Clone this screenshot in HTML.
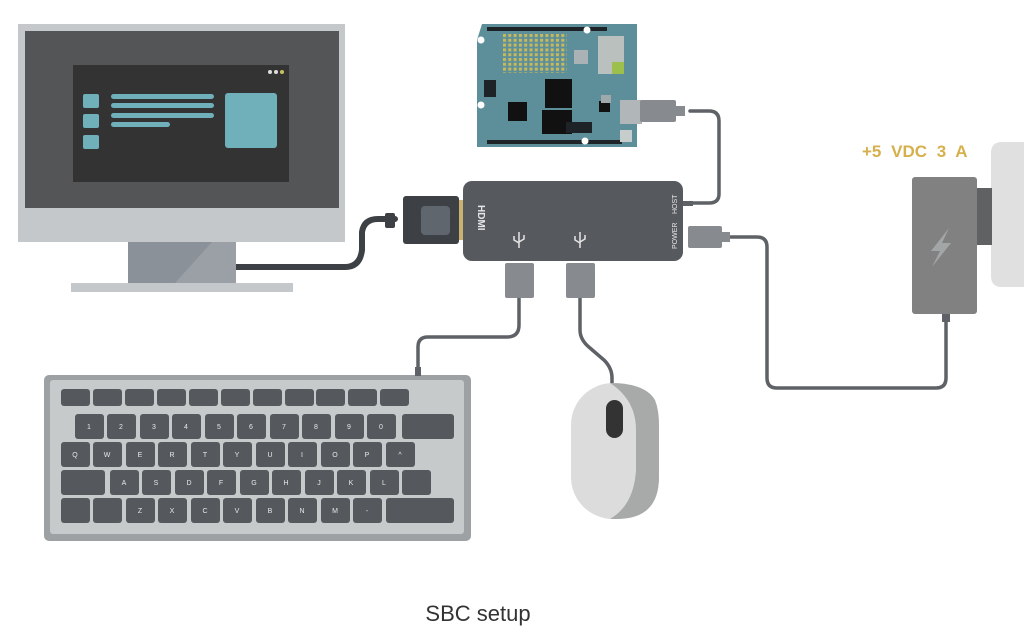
<!DOCTYPE html>
<html><head><meta charset="utf-8"><style>
html,body{margin:0;padding:0;background:#fff;width:1024px;height:635px;overflow:hidden}
svg{display:block}
.k{font-family:"Liberation Sans",sans-serif;font-size:7px;fill:#e8e8e8;text-anchor:middle}
</style></head><body>
<svg width="1024" height="635" viewBox="0 0 1024 635" xmlns="http://www.w3.org/2000/svg">
<defs>
<pattern id="led" x="503" y="34" width="5.3" height="4.8" patternUnits="userSpaceOnUse"><rect width="3" height="3" fill="#c8b95a"/></pattern>
</defs>
<!-- cables -->
<g fill="none" stroke="#5e6267" stroke-width="3.5" stroke-linecap="round">
<path d="M236 267 H345 Q360 267 362 250 V232 Q364 219 378 219 H395" stroke="#3d4044" stroke-width="6"/>
<path d="M519 297 V325 Q519 337 507 337 H428 Q418 337 418 347 V375"/>
<path d="M580 297 V330 Q580 340 590 348 L604 360 Q612 368 612 378 V384"/>
<path d="M690 111 H709 Q719 111 719 121 V194 Q719 203 709 203 H683"/>
<path d="M730 237 H757 Q767 237 767 247 V378 Q767 388 777 388 H936 Q946 388 946 378 V318"/>
</g>
<!-- monitor -->
<rect x="18" y="24" width="327" height="218" fill="#c4c8cb"/>
<rect x="25" y="31" width="314" height="177" fill="#545557"/>
<rect x="73" y="65" width="216" height="117" fill="#333333"/>
<rect x="83" y="94" width="16" height="14" rx="2" fill="#6fb0ba"/>
<rect x="83" y="114" width="16" height="14" rx="2" fill="#6fb0ba"/>
<rect x="83" y="135" width="16" height="14" rx="2" fill="#6fb0ba"/>
<rect x="111" y="94" width="103" height="5" rx="2.5" fill="#6fb0ba"/>
<rect x="111" y="103" width="103" height="5" rx="2.5" fill="#6fb0ba"/>
<rect x="111" y="113" width="103" height="5" rx="2.5" fill="#6fb0ba"/>
<rect x="111" y="122" width="59" height="5" rx="2.5" fill="#6fb0ba"/>
<rect x="225" y="93" width="52" height="55" rx="3" fill="#6fb0ba"/>
<circle cx="270" cy="72" r="2" fill="#ddd"/><circle cx="276" cy="72" r="2" fill="#ddd"/><circle cx="282" cy="72" r="2" fill="#c8c060"/>
<rect x="128" y="242" width="108" height="41" fill="#8a9198"/>
<polygon points="175,283 212,242 236,242 236,283" fill="#9aa0a6"/>
<rect x="71" y="283" width="222" height="9" fill="#c4c8cb"/>
<!-- hdmi plug -->
<rect x="385" y="213" width="10" height="15" rx="2" fill="#3d4044"/>
<rect x="403" y="196" width="56" height="48" rx="3" fill="#3d4044"/>
<rect x="421" y="206" width="29" height="29" rx="4" fill="#5f666d"/>
<rect x="459" y="200" width="5" height="40" fill="#c9b36f"/>
<!-- hub -->
<rect x="463" y="181" width="220" height="80" rx="9" fill="#56595e"/>
<text x="0" y="0" transform="translate(478,205) rotate(90)" font-family="Liberation Sans,sans-serif" font-size="10" font-weight="bold" fill="#e6e6e6">HDMI</text>
<text x="0" y="0" transform="translate(677,214) rotate(-90)" font-family="Liberation Sans,sans-serif" font-size="7" fill="#e6e6e6">HOST</text>
<text x="0" y="0" transform="translate(677,249) rotate(-90)" font-family="Liberation Sans,sans-serif" font-size="7" fill="#e6e6e6">POWER</text>
<g stroke="#e6e6e6" stroke-width="1.5" fill="none"><path d="M519 232 V248 M514 236 V240 L519 243 M524 235 V239 L519 242"/><path d="M580 232 V248 M575 236 V240 L580 243 M585 235 V239 L580 242"/></g>
<rect x="683" y="201" width="10" height="5" fill="#5e6267"/>
<!-- usb plugs -->
<rect x="505" y="263" width="29" height="35" rx="2" fill="#878b8f"/>
<rect x="566" y="263" width="29" height="35" rx="2" fill="#878b8f"/>
<rect x="688" y="226" width="34" height="22" rx="2" fill="#878b8f"/>
<rect x="722" y="232" width="8" height="10" fill="#878b8f"/>
<!-- arduino -->
<path d="M482 24 H637 V147 H477 V40 Z" fill="#5c8f9a"/>
<rect x="487" y="27" width="120" height="4" fill="#1d2326"/>
<rect x="487" y="140" width="135" height="4" fill="#1d2326"/>
<rect x="503" y="34" width="64" height="39" fill="url(#led)"/>
<rect x="598" y="36" width="26" height="38" fill="#b9c0bd"/>
<rect x="612" y="62" width="12" height="12" fill="#9cc04b"/>
<rect x="574" y="50" width="14" height="14" fill="#aab2b5"/>
<rect x="545" y="79" width="27" height="29" fill="#111"/>
<rect x="542" y="110" width="30" height="24" fill="#111"/>
<rect x="508" y="102" width="19" height="19" fill="#111"/>
<rect x="599" y="101" width="11" height="11" fill="#111"/>
<rect x="484" y="80" width="12" height="17" fill="#1d2326"/>
<rect x="566" y="122" width="26" height="11" fill="#1d2326"/>
<rect x="601" y="95" width="10" height="8" fill="#9fa8aa"/>
<rect x="620" y="100" width="22" height="24" fill="#b1b6b8"/>
<circle cx="481" cy="40" r="3.5" fill="#fff"/><circle cx="481" cy="105" r="3.5" fill="#fff"/><circle cx="587" cy="30" r="3.5" fill="#fff"/><circle cx="585" cy="141" r="3.5" fill="#fff"/>
<rect x="620" y="130" width="12" height="12" fill="#c7cccc"/>
<rect x="640" y="100" width="36" height="22" rx="2" fill="#878b8f"/>
<rect x="676" y="106" width="9" height="10" fill="#878b8f"/>
<!-- adapter -->
<text x="862" y="157" font-family="Liberation Sans,sans-serif" font-size="17" font-weight="bold" fill="#d6b04c" style="word-spacing:5px">+5 VDC 3 A</text>
<path d="M1024 142 H1002 Q991 142 991 153 V276 Q991 287 1002 287 H1024 Z" fill="#e0e0e0"/>
<rect x="976" y="188" width="16" height="57" fill="#5f6163"/>
<rect x="912" y="177" width="65" height="137" rx="3" fill="#818181"/>
<polygon points="949,228 931,251 940,251 932,267 951,243 942,243" fill="#a3a6a7"/>
<rect x="942" y="314" width="8" height="8" fill="#5e6267"/>
<!-- keyboard -->
<rect x="44" y="375" width="427" height="166" rx="5" fill="#9da1a3"/>
<rect x="50" y="380" width="414" height="154" rx="3" fill="#c6cacb"/>
<g fill="#55585d">
<rect x="61" y="389" width="29" height="17" rx="3"/><rect x="93" y="389" width="29" height="17" rx="3"/><rect x="125" y="389" width="29" height="17" rx="3"/><rect x="157" y="389" width="29" height="17" rx="3"/><rect x="189" y="389" width="29" height="17" rx="3"/><rect x="221" y="389" width="29" height="17" rx="3"/><rect x="253" y="389" width="29" height="17" rx="3"/><rect x="285" y="389" width="29" height="17" rx="3"/><rect x="316" y="389" width="29" height="17" rx="3"/><rect x="348" y="389" width="29" height="17" rx="3"/><rect x="380" y="389" width="29" height="17" rx="3"/>
<rect x="402" y="414" width="52" height="25" rx="3"/>
<rect x="61" y="470" width="44" height="25" rx="3"/><rect x="402" y="470" width="29" height="25" rx="3"/>
<rect x="61" y="498" width="29" height="25" rx="3"/><rect x="93" y="498" width="29" height="25" rx="3"/><rect x="386" y="498" width="68" height="25" rx="3"/>
</g>
<g fill="#55585d">
<rect x="75" y="414" width="29" height="25" rx="3"/><rect x="107" y="414" width="29" height="25" rx="3"/><rect x="140" y="414" width="29" height="25" rx="3"/><rect x="172" y="414" width="29" height="25" rx="3"/><rect x="205" y="414" width="29" height="25" rx="3"/><rect x="237" y="414" width="29" height="25" rx="3"/><rect x="270" y="414" width="29" height="25" rx="3"/><rect x="302" y="414" width="29" height="25" rx="3"/><rect x="335" y="414" width="29" height="25" rx="3"/><rect x="367" y="414" width="29" height="25" rx="3"/>
<rect x="61" y="442" width="29" height="25" rx="3"/><rect x="93" y="442" width="29" height="25" rx="3"/><rect x="126" y="442" width="29" height="25" rx="3"/><rect x="158" y="442" width="29" height="25" rx="3"/><rect x="191" y="442" width="29" height="25" rx="3"/><rect x="223" y="442" width="29" height="25" rx="3"/><rect x="256" y="442" width="29" height="25" rx="3"/><rect x="288" y="442" width="29" height="25" rx="3"/><rect x="321" y="442" width="29" height="25" rx="3"/><rect x="353" y="442" width="29" height="25" rx="3"/><rect x="386" y="442" width="29" height="25" rx="3"/>
<rect x="110" y="470" width="29" height="25" rx="3"/><rect x="142" y="470" width="29" height="25" rx="3"/><rect x="175" y="470" width="29" height="25" rx="3"/><rect x="207" y="470" width="29" height="25" rx="3"/><rect x="240" y="470" width="29" height="25" rx="3"/><rect x="272" y="470" width="29" height="25" rx="3"/><rect x="305" y="470" width="29" height="25" rx="3"/><rect x="337" y="470" width="29" height="25" rx="3"/><rect x="370" y="470" width="29" height="25" rx="3"/>
<rect x="126" y="498" width="29" height="25" rx="3"/><rect x="158" y="498" width="29" height="25" rx="3"/><rect x="191" y="498" width="29" height="25" rx="3"/><rect x="223" y="498" width="29" height="25" rx="3"/><rect x="256" y="498" width="29" height="25" rx="3"/><rect x="288" y="498" width="29" height="25" rx="3"/><rect x="321" y="498" width="29" height="25" rx="3"/><rect x="353" y="498" width="29" height="25" rx="3"/>
</g>
<g class="k">
<text x="89" y="429">1</text><text x="121" y="429">2</text><text x="154" y="429">3</text><text x="186" y="429">4</text><text x="219" y="429">5</text><text x="251" y="429">6</text><text x="284" y="429">7</text><text x="316" y="429">8</text><text x="349" y="429">9</text><text x="381" y="429">0</text>
<text x="75" y="457">Q</text><text x="107" y="457">W</text><text x="140" y="457">E</text><text x="172" y="457">R</text><text x="205" y="457">T</text><text x="237" y="457">Y</text><text x="270" y="457">U</text><text x="302" y="457">I</text><text x="335" y="457">O</text><text x="367" y="457">P</text><text x="400" y="457">^</text>
<text x="124" y="485">A</text><text x="156" y="485">S</text><text x="189" y="485">D</text><text x="221" y="485">F</text><text x="254" y="485">G</text><text x="286" y="485">H</text><text x="319" y="485">J</text><text x="351" y="485">K</text><text x="384" y="485">L</text>
<text x="140" y="513">Z</text><text x="172" y="513">X</text><text x="205" y="513">C</text><text x="237" y="513">V</text><text x="270" y="513">B</text><text x="302" y="513">N</text><text x="335" y="513">M</text><text x="367" y="513">-</text>
</g>
<rect x="415" y="367" width="6" height="9" fill="#5e6267"/>
<!-- mouse -->
<rect x="571" y="383" width="88" height="136" rx="42" fill="#dcdcdc"/>
<path d="M610 383 Q645 383 655 400 Q659 410 659 425 V477 Q659 519 617 519 H610 Q634 505 636 470 V430 Q636 400 610 383 Z" fill="#a8aaaa"/>
<rect x="606" y="400" width="17" height="38" rx="8.5" fill="#333"/>
<!-- caption -->
<text x="478" y="621" font-family="Liberation Sans,sans-serif" font-size="22" fill="#333" text-anchor="middle">SBC setup</text>
</svg>
</body></html>
